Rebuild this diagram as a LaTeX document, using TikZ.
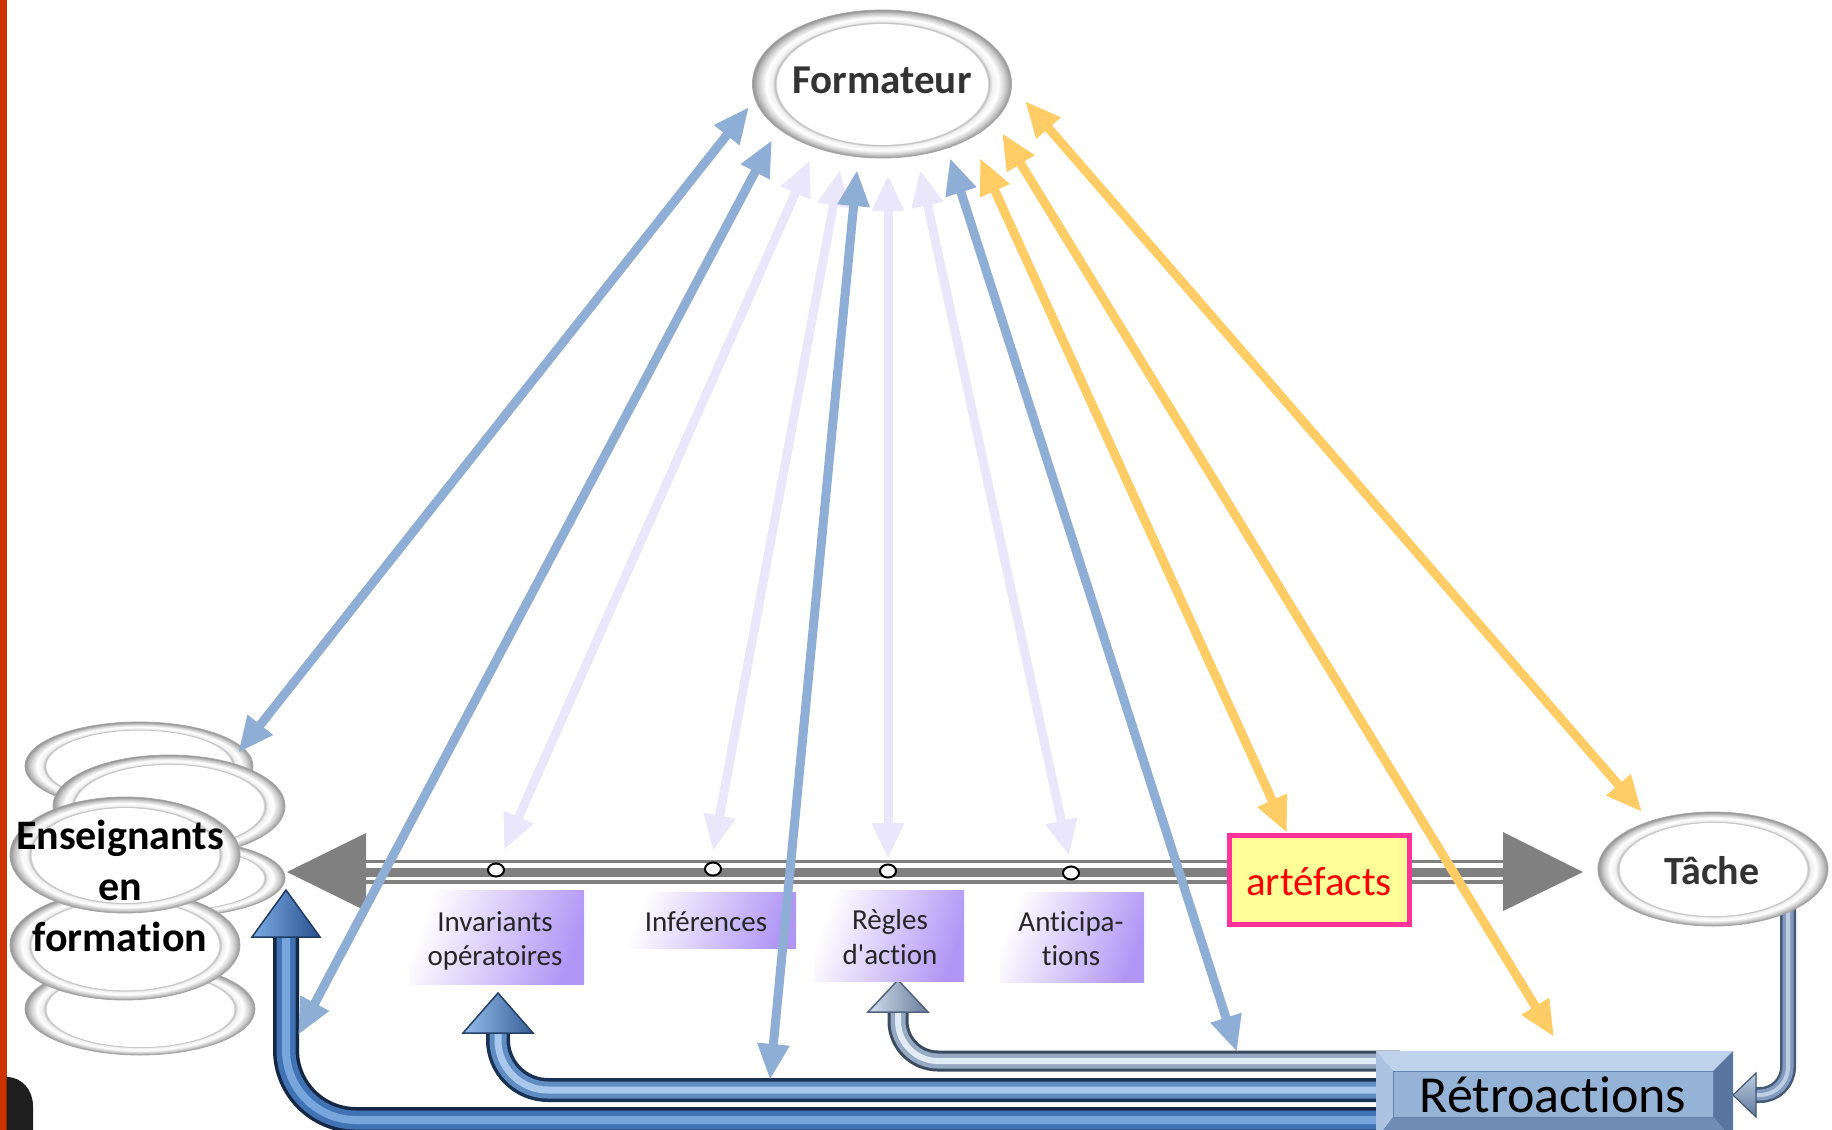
\documentclass[tikz,border=0pt]{standalone}
\usepackage{fontspec}
\setmainfont{Carlito}[Ligatures={CommonOff,TeXOff}]
\usetikzlibrary{arrows.meta,shapes.geometric}
\definecolor{arrblue}{RGB}{143,174,214}
\definecolor{arrlav}{RGB}{234,230,252}
\definecolor{arrorange}{RGB}{255,204,102}
\definecolor{linegray}{RGB}{128,128,128}
\definecolor{purp}{RGB}{176,150,245}
\definecolor{artfill}{RGB}{255,255,153}
\definecolor{artdraw}{RGB}{255,51,153}
\definecolor{retromid}{RGB}{149,179,215}
\definecolor{retrolight}{RGB}{190,210,235}
\definecolor{retroleft}{RGB}{172,196,226}
\definecolor{retroright}{RGB}{88,118,160}
\definecolor{retrobot}{RGB}{110,140,180}
\definecolor{retroline}{RGB}{100,130,170}
\definecolor{edgered}{RGB}{204,51,0}
\definecolor{nearblack}{RGB}{30,30,30}
\definecolor{darktext}{RGB}{51,51,51}
\definecolor{bigdark}{RGB}{20,40,70}
\definecolor{bigmid}{RGB}{65,115,180}
\definecolor{biglight}{RGB}{120,165,220}
\definecolor{middark}{RGB}{25,50,85}
\definecolor{midmid}{RGB}{95,140,195}
\definecolor{midlight}{RGB}{170,200,235}
\definecolor{regdark}{RGB}{60,75,95}
\definecolor{regmid}{RGB}{150,170,195}
\definecolor{reglight}{RGB}{225,235,245}
\definecolor{tadark}{RGB}{70,90,120}
\definecolor{tamid}{RGB}{130,155,190}
\definecolor{talight}{RGB}{190,205,225}
\definecolor{hAdraw}{RGB}{30,60,100}
\definecolor{hAleft}{RGB}{125,172,230}
\definecolor{hAright}{RGB}{40,80,140}
\definecolor{hBdraw}{RGB}{35,65,105}
\definecolor{hBleft}{RGB}{150,190,235}
\definecolor{hBright}{RGB}{55,95,150}
\definecolor{hCdraw}{RGB}{80,100,130}
\definecolor{hCleft}{RGB}{210,222,238}
\definecolor{hCright}{RGB}{105,125,155}
\definecolor{hDdraw}{RGB}{70,90,120}
\definecolor{hDtop}{RGB}{190,205,225}
\definecolor{hDbot}{RGB}{95,120,155}
\pgfdeclareradialshading{ringshade}{\pgfpoint{0bp}{0bp}}{color(0bp)=(white); color(20.3bp)=(white); color(20.6bp)=(gray!55); color(21.2bp)=(gray!12); color(22.4bp)=(white); color(23.8bp)=(gray!40); color(25bp)=(gray!85); color(50bp)=(gray!85)}
\begin{document}
\begin{tikzpicture}[x=1pt,y=-1pt,
  ringnode/.style={ellipse, shade, shading=ringshade, draw=gray!70, line width=0.8pt, inner sep=0pt},
  conn/.style={line width=9pt, >={Triangle[length=36pt,width=30pt]}, <->},
  bconn/.style={conn, draw=arrblue},
  lconn/.style={conn, draw=arrlav},
  oconn/.style={conn, draw=arrorange},
  tubebig/.style={line width=26pt, draw=bigdark, postaction={draw=bigmid, line width=19pt}, postaction={draw=biglight, line width=8pt}},
  tubemidst/.style={line width=24pt, draw=middark, postaction={draw=midmid, line width=17pt}, postaction={draw=midlight, line width=7pt}},
  tubereg/.style={line width=21pt, draw=regdark, postaction={draw=regmid, line width=15pt}, postaction={draw=reglight, line width=6pt}},
  tubeta/.style={line width=16pt, draw=tadark, postaction={draw=tamid, line width=11pt}, postaction={draw=talight, line width=4pt}},
  labbox/.style={rectangle, inner sep=0pt, top color=white, bottom color=purp, shading angle=70},
  labtxt/.style={anchor=base, inner sep=0pt, font=\fontsize{29}{34}\selectfont, text=black!85},
  dotc/.style={ellipse, draw=black, fill=white, line width=2pt, minimum width=16pt, minimum height=13pt, inner sep=0pt},
  bigtxt/.style={anchor=base, inner sep=0pt, font=\fontsize{42}{50}\selectfont\bfseries}
]
\useasboundingbox (0,0) rectangle (1832,1130);
\clip (0,0) rectangle (1832,1130);
\fill[white] (0,0) rectangle (1832,1130);
\fill[edgered] (0,0) rectangle (6.5,1130);
\fill[nearblack] (6.5,1140) -- (6.5,1077) .. controls (22,1077) and (33,1090) .. (33,1106) -- (33,1140) -- cycle;

% ---------- feedback tubes ----------
\coordinate (tb1) at (1400,1120);
\coordinate (tb1e) at (286,937);
\draw[tubebig, rounded corners=70pt] (tb1) -| (tb1e);
\filldraw[draw=hAdraw, line width=1.5pt, left color=hAleft, right color=hAright] (286,890) -- (320,937) -- (252,937) -- cycle;

\coordinate (tb2) at (1400,1090);
\coordinate (tb2e) at (498,1033);
\draw[tubemidst, rounded corners=50pt] (tb2) -| (tb2e);
\filldraw[draw=hBdraw, line width=1.5pt, left color=hBleft, right color=hBright] (498,993) -- (533,1033) -- (463,1033) -- cycle;

\coordinate (tb3) at (1400,1061);
\coordinate (tb3e) at (898,1012);
\draw[tubereg, rounded corners=40pt] (tb3) -| (tb3e);
\filldraw[draw=hCdraw, line width=1.5pt, left color=hCleft, right color=hCright] (898,980) -- (928,1012) -- (868,1012) -- cycle;

\coordinate (tb4) at (1788,905);
\coordinate (tb4e) at (1756,1095);
\draw[tubeta, rounded corners=28pt] (tb4) |- (tb4e);
\filldraw[draw=hDdraw, line width=1.2pt, top color=hDtop, bottom color=hDbot] (1733,1095) -- (1756,1073) -- (1756,1117) -- cycle;

% ---------- grey double arrow ----------
\fill[linegray] (287,872) -- (366,833) -- (366,911) -- cycle;
\fill[linegray] (1583,872) -- (1503,832) -- (1503,911) -- cycle;
\draw[linegray, line width=3.5pt] (366,861.5) -- (1503,861.5);
\draw[linegray, line width=9pt] (366,872.5) -- (1503,872.5);
\draw[linegray, line width=3.5pt] (366,882) -- (1503,882);

% ---------- label boxes ----------
\node[labbox, minimum width=174pt, minimum height=94pt] (invbox) at (497,937) {};
\node[labbox, minimum width=172pt, minimum height=56pt] (infbox) at (710,920) {};
\node[labbox, minimum width=150pt, minimum height=91pt] (regbox) at (889,936) {};
\node[labbox, minimum width=144pt, minimum height=90pt] (antbox) at (1072,937) {};
\node[labtxt] (inv1) at (495,931) {Invariants};
\node[labtxt] (inv2) at (495,965) {opératoires};
\node[labtxt] (inf1) at (706,931) {Inférences};
\node[labtxt] (reg1) at (890,929) {Règles};
\node[labtxt] (reg2) at (890,964) {d'action};
\node[labtxt] (ant1) at (1071,931) {Anticipa-};
\node[labtxt] (ant2) at (1071,965) {tions};

\node[dotc] (c1) at (496,870) {};
\node[dotc] (c2) at (713,869) {};
\node[dotc] (c3) at (888,871) {};
\node[dotc] (c4) at (1071,873) {};

% ---------- Enseignants stack ----------
\node[ringnode, minimum width=228pt, minimum height=88pt] (e1) at (139,766) {};
\node[ringnode, minimum width=232pt, minimum height=102pt] (e2) at (169,806) {};
\node[ringnode, minimum width=232pt, minimum height=78pt] (e3) at (169,878) {};
\node[ringnode, minimum width=230pt, minimum height=92pt] (e6) at (140,1009) {};
\node[ringnode, minimum width=230pt, minimum height=110pt] (e5) at (125,945) {};
\node[ringnode, minimum width=230pt, minimum height=116pt] (e4) at (125,855) {};
\node[bigtxt] (ens1) at (120,849) {Enseignants};
\node[bigtxt] (ens2) at (120,900) {en};
\node[bigtxt] (ens3) at (120,951) {formation};

% ---------- Formateur, Tache ----------
\node[ringnode, minimum width=259pt, minimum height=148pt] (form) at (882,84) {};
\node[bigtxt, font=\fontsize{41}{48}\selectfont\bfseries, text=darktext] (formtxt) at (882,93) {Formateur};
\node[ringnode, minimum width=230pt, minimum height=114pt] (tache) at (1713,869) {};
\node[bigtxt, font=\fontsize{40}{48}\selectfont\bfseries, text=darktext] (tachetxt) at (1712,884) {Tâche};

% ---------- artefacts ----------
\node[rectangle, draw=artdraw, line width=5pt, fill=artfill, minimum width=180pt, minimum height=89pt, inner sep=0pt] (artef) at (1319.5,880) {};
\node[anchor=base, inner sep=0pt, text=red, font=\fontsize{41}{48}\selectfont] (arttxt) at (1319,895) {artéfacts};

% ---------- Retroactions ----------
\fill[retrolight] (1376,1051) -- (1733,1051) -- (1713,1071) -- (1393,1071) -- cycle;
\fill[retroleft] (1376,1051) -- (1393,1071) -- (1393,1117) -- (1376,1140) -- cycle;
\fill[retroright] (1733,1051) -- (1713,1071) -- (1713,1117) -- (1733,1140) -- cycle;
\fill[retrobot] (1376,1140) -- (1393,1117) -- (1713,1117) -- (1733,1140) -- cycle;
\node[rectangle, fill=retromid, draw=retroline, line width=0.8pt, minimum width=320pt, minimum height=46pt, inner sep=0pt] (retro) at (1553,1094) {};
\node[anchor=base, inner sep=0pt, font=\fontsize{52}{60}\selectfont] (retrotxt) at (1553,1112) {Rétroactions};

% ---------- connectors from Formateur ----------
\coordinate (a1) at (749,107);  \coordinate (b1) at (238,753);
\coordinate (a2) at (772,140);  \coordinate (b2) at (298,1035);
\coordinate (a3) at (810,160);  \coordinate (b3) at (504,850);
\coordinate (a4) at (840,170);  \coordinate (b4) at (713,851);
\coordinate (a5) at (857,170);  \coordinate (b5) at (770,1080);
\coordinate (a6) at (888,175);  \coordinate (b6) at (888,859);
\coordinate (a7) at (920,170);  \coordinate (b7) at (1069,856);
\coordinate (a8) at (950,158);  \coordinate (b8) at (1237,1052);
\coordinate (a9) at (980,158);  \coordinate (b9) at (1287,833);
\coordinate (a10) at (1002,133); \coordinate (b10) at (1554,1037);
\coordinate (a11) at (1025,101); \coordinate (b11) at (1642,812);

\draw[lconn] (a3) -- (b3);
\draw[lconn] (a4) -- (b4);
\draw[lconn] (a6) -- (b6);
\draw[lconn] (a7) -- (b7);
\draw[bconn] (a1) -- (b1);
\draw[bconn] (a2) -- (b2);
\draw[bconn] (a5) -- (b5);
\draw[bconn] (a8) -- (b8);
\draw[oconn] (a9) -- (b9);
\draw[oconn] (a10) -- (b10);
\draw[oconn] (a11) -- (b11);
\end{tikzpicture}
\end{document}
